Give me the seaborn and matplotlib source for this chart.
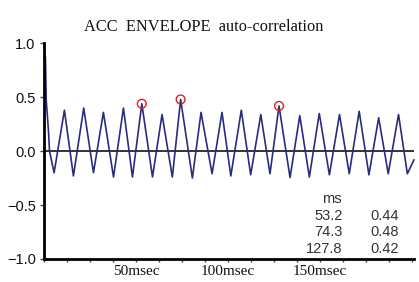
import pandas as pd
import seaborn as sns
import matplotlib.pyplot as plt
from matplotlib.ticker import MultipleLocator, FixedLocator, FuncFormatter

# decay from lag 0
start_t = [0.0, 0.8, 1.2, 2.5, 3.0]
start_v = [1.0, 0.86, 0.48, 0.17, 0.0]

# local maxima / minima of the curve (ms, value)
peak_t = [11.1, 21.6, 32.3, 43.2, 53.2, 64.2, 74.3, 85.4, 96.8, 107.3,
          117.9, 127.8, 139.1, 149.7, 160.7, 171.4, 182.0, 192.8]
peak_v = [0.38, 0.40, 0.36, 0.40, 0.44, 0.34, 0.48, 0.36, 0.36, 0.38,
          0.34, 0.42, 0.33, 0.35, 0.34, 0.37, 0.31, 0.34]
trough_t = [5.5, 16.0, 26.9, 37.8, 48.1, 59.0, 69.8, 80.7, 91.4, 101.6,
            112.4, 122.9, 133.8, 144.3, 155.2, 166.0, 176.7, 187.2, 197.6]
trough_v = [-0.20, -0.23, -0.20, -0.24, -0.24, -0.24, -0.24, -0.25, -0.21, -0.23,
            -0.22, -0.21, -0.245, -0.24, -0.22, -0.21, -0.22, -0.21, -0.21]
end_t = [201.2]
end_v = [-0.08]

# marked peaks
mark_t = [53.2, 74.3, 127.8]
mark_v = [0.44, 0.48, 0.42]

x_labels = [50, 100, 150]

df = pd.DataFrame({
    "t": start_t + peak_t + trough_t + end_t,
    "r": start_v + peak_v + trough_v + end_v,
}).sort_values("t")
marks = pd.DataFrame({"t": mark_t, "r": mark_v})

sns.set_theme(style="white")
plt.rcParams["font.family"] = ["Liberation Sans", "DejaVu Sans"]

fig = plt.figure(figsize=(4.19, 2.82), dpi=100)
ax = fig.add_axes([0.105, 0.082, 0.883, 0.764])

ax.axhline(0, color="#111111", lw=1.2, zorder=1)
sns.lineplot(data=df, x="t", y="r", sort=False, color="#2b2b80", lw=1.2,
             ax=ax, zorder=2, clip_on=False)
sns.scatterplot(data=marks, x="t", y="r", s=40, facecolors="none",
                edgecolor="#e02020", linewidth=1.0, ax=ax, zorder=3)

ax.set_xlim(0, 201.2)
ax.set_ylim(-1, 1)
ax.set_xlabel("")
ax.set_ylabel("")

sns.despine(ax=ax)
for side in ("left", "bottom"):
    ax.spines[side].set_linewidth(2.0)
    ax.spines[side].set_color("black")

ax.xaxis.set_major_locator(FixedLocator(x_labels))
ax.xaxis.set_minor_locator(MultipleLocator(12.5))
ax.xaxis.set_major_formatter(FuncFormatter(lambda v, p: f"{v:.0f}msec"))
ax.yaxis.set_major_locator(MultipleLocator(0.5))
ax.yaxis.set_major_formatter(FuncFormatter(lambda v, p: f"{v:.1f}".replace("-", "\u2212")))

ax.tick_params(axis="x", which="both", direction="out", length=2.5, width=1,
               color="#444444", bottom=True, pad=2)
ax.tick_params(axis="y", which="major", direction="out", length=3, width=1,
               color="#444444", left=True, pad=3, labelsize=10.5, labelcolor="#111111")
for lab in ax.get_xticklabels():
    lab.set_family(["Liberation Serif", "DejaVu Serif"])
    lab.set_fontsize(11)
    lab.set_color("#111111")

fig.text(0.485, 0.904, "ACC  ENVELOPE  auto-correlation",
         family=["Liberation Serif", "DejaVu Serif"], fontsize=11.8,
         ha="center", va="center", color="#111111")

# little table of the marked peaks
fig.text(0.793, 1 - 199 / 282, "ms", ha="center", va="center",
         fontsize=10.5, color="#333333")
for i, (t, r) in enumerate(zip(mark_t, mark_v)):
    y = 1 - (216 + i * 16.5) / 282
    fig.text(0.818, y, f"{t:.1f}", ha="right", va="center", fontsize=10.5, color="#333333")
    fig.text(0.952, y, f"{r:.2f}", ha="right", va="center", fontsize=10.5, color="#333333")

fig.savefig("out.png", dpi=100)
